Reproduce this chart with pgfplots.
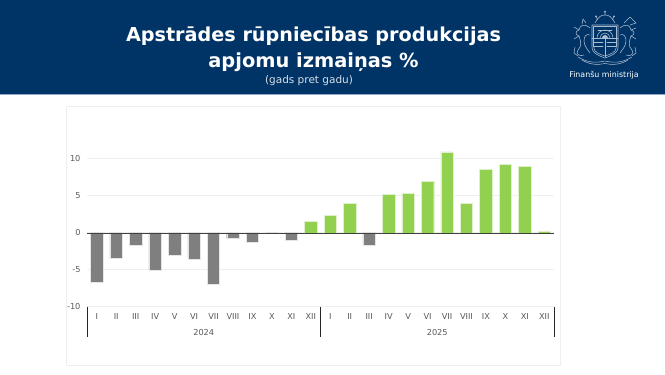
\documentclass[border=0pt]{standalone}
\usepackage{pgfplots}
\pgfplotsset{compat=1.18}
\usepackage{fontspec}
\setmainfont{DejaVu Sans}
\definecolor{hdr}{HTML}{003366}
\definecolor{hdrline}{HTML}{8FA8C8}
\definecolor{crest}{HTML}{A9BCD2}
\definecolor{gbar}{HTML}{7F7F7F}
\definecolor{lbar}{HTML}{92D050}
\definecolor{gridc}{HTML}{EFEFEF}
\definecolor{txt}{HTML}{595959}
\begin{document}
\begin{tikzpicture}[x=1pt,y=1pt]
\path[use as bounding box] (0,0) rectangle (665,375);
\fill[white] (0,0) rectangle (665,375);
\fill[hdr] (0,281) rectangle (665,375);
\fill[hdrline] (0,280.2) rectangle (665,281);
\draw[gridc,line width=1pt] (66.5,9) rectangle (560.5,268.5);
% header text
\node[text=white,font=\fontsize{19.2}{24}\selectfont\bfseries,anchor=base] at (313.5,333.5) {Apstrādes rūpniecības produkcijas};
\node[text=white,font=\fontsize{19.4}{24}\selectfont\bfseries,anchor=base] at (313.5,307.8) {apjomu izmaiņas \%};
\node[text=white!85!hdr,font=\fontsize{10.5}{12}\selectfont,anchor=base] at (309,291) {(gads pret gadu)};
\node[text=white,font=\fontsize{7.9}{10}\selectfont,anchor=base] at (604,297) {Finanšu ministrija};
% crest
\begin{scope}[draw=crest,line width=0.55pt,line cap=round,line join=round]
\draw (592,350) -- (618,350) -- (618,328) .. controls (618,321) and (610,319) .. (605,317) .. controls (600,319) and (592,321) .. (592,328) -- cycle;
\draw (593.5,348.5) -- (616.5,348.5) -- (616.5,328.5) .. controls (616.5,322) and (609,320.5) .. (605,319) .. controls (601,320.5) and (593.5,322) .. (593.5,328.5) -- cycle;
\draw (592,337) -- (618,337);
\draw (605,337) -- (605,318);
\draw (597,337) arc (180:0:8);
\draw (600,337) arc (180:0:5);
\fill[crest] (602,337) arc (180:0:3);
\draw (598,345) -- (612,345);
\draw (594,333) -- (603,333) (594,329) -- (603,329) (607,333) -- (616,333) (607,329) -- (616,329);
% crown/stars
\draw (595,352) .. controls (598,358) and (601,360) .. (605,360) .. controls (609,360) and (612,358) .. (615,352);
\draw (598,355) -- (596,358) (605,360) -- (605,363) (612,355) -- (614,358);
\fill[crest] (596,358.6) circle (1) (605,363.4) circle (1) (614,358.6) circle (1);
% left lion
\draw (590,347) .. controls (584,352) and (580,350) .. (579,345) .. controls (575,344) and (575,340) .. (579,339) .. controls (581,333) and (582,329) .. (578,325) .. controls (575,321) and (580,318) .. (584,320);
\draw (590,340) .. controls (586,342) and (584,338) .. (584,334) .. controls (584,329) and (588,325) .. (590,322);
\draw (586,352) -- (583,356) -- (582,351) (579,345) -- (574,348) (579,339) -- (574,336) (575,328) -- (574,322) -- (578,319);
% right griffin
\draw (620,347) .. controls (626,352) and (630,350) .. (631,345) .. controls (635,344) and (635,340) .. (631,339) .. controls (629,333) and (628,329) .. (632,325) .. controls (635,321) and (630,318) .. (626,320);
\draw (620,340) .. controls (624,342) and (626,338) .. (626,334) .. controls (626,329) and (622,325) .. (620,322);
\draw (624,352) -- (630,358) -- (636,352) -- (630,350) (631,345) -- (636,347) (631,339) -- (636,336) (635,328) -- (636,322) -- (632,319);
% ribbon and oak
\draw (578,318) .. controls (588,312) and (596,312) .. (605,314) .. controls (614,312) and (622,312) .. (632,318);
\draw (582,315) .. controls (590,310) and (598,310) .. (605,311.5) .. controls (612,310) and (620,310) .. (628,315);
\end{scope}
\begin{axis}[
  at={(87pt,68pt)},anchor=south west,
  scale only axis,width=467pt,height=177.6pt,
  xmin=-0.5,xmax=23.5,ymin=-10,ymax=14,
  clip=false,
  axis line style={draw=none},
  major tick length=0pt,
  ymajorgrids,
  grid style={gridc,line width=1pt},
  ytick={-10,-5,0,5,10},
  yticklabels={-10,-5,0,5,10},
  xtick={0,...,23},
  xticklabels={I,II,III,IV,V,VI,VII,VIII,IX,X,XI,XII,I,II,III,IV,V,VI,VII,VIII,IX,X,XI,XII},
  tick label style={text=txt,font=\fontsize{8.2}{9}\selectfont},
  xticklabel style={yshift=-2.5pt},
  yticklabel style={xshift=-3pt},
  ybar,bar width=12.4pt,
]
\addplot[bar shift=0pt,fill=gbar,draw=white!80!gbar,line width=0.4pt] coordinates {
(0,-6.67)(1,-3.4)(2,-1.67)(3,-5.0)(4,-3.06)(5,-3.5)(6,-6.94)(7,-0.77)(8,-1.3)(9,0)(10,-1.0)(14,-1.67)};
\addplot[bar shift=0pt,fill=lbar,draw=white!70!lbar,line width=0.4pt] coordinates {
(11,1.55)(12,2.34)(13,4.0)(15,5.18)(16,5.36)(17,6.98)(18,10.95)(19,3.96)(20,8.56)(21,9.32)(22,9.0)(23,0.22)};
\draw[black!75,line width=0.8pt] (axis cs:-0.5,0) -- (axis cs:23.5,0);
\draw[black!85,line width=0.9pt] (axis cs:-0.5,-10) -- ++(0pt,-30pt);
\draw[black!85,line width=0.9pt] (axis cs:11.5,-10) -- ++(0pt,-30pt);
\draw[black!85,line width=0.9pt] (axis cs:23.5,-10) -- ++(0pt,-30pt);
\node[text=txt,font=\fontsize{8.2}{9}\selectfont] at (axis cs:5.5,-13.4) {2024};
\node[text=txt,font=\fontsize{8.2}{9}\selectfont] at (axis cs:17.5,-13.4) {2025};
\end{axis}
\end{tikzpicture}
\end{document}
